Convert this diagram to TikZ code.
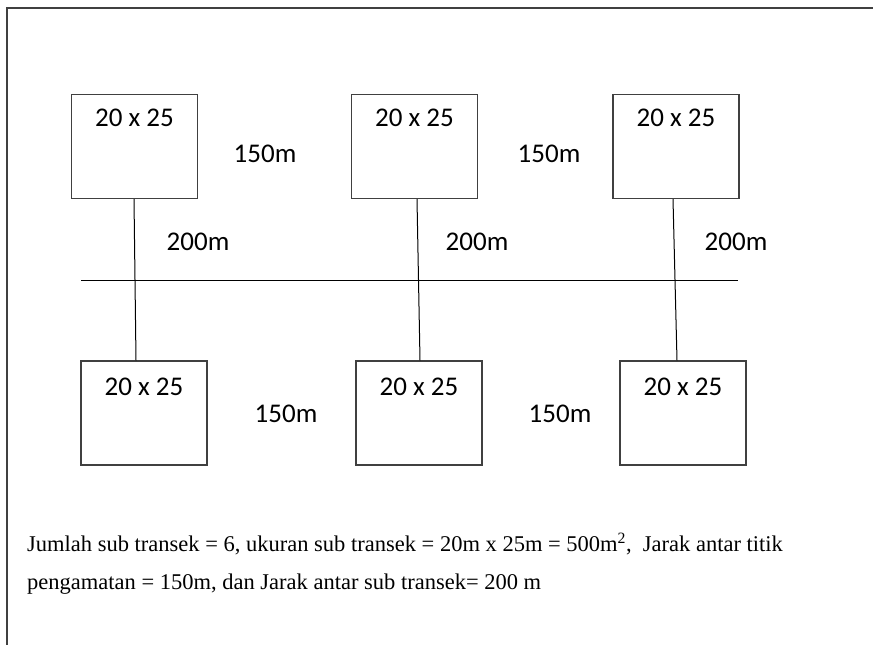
\documentclass[tikz,border=0pt]{standalone}
\usepackage{fontspec}
\setmainfont{Liberation Serif}
\newfontfamily\labelfont{Carlito}
\usetikzlibrary{positioning}

\begin{document}
\begin{tikzpicture}[x=1pt,y=-1pt,
	subplot/.style={draw=black!75,line width=1.3pt,minimum width=126pt,minimum height=104pt,inner sep=0pt},
	dist/.style={font=\labelfont\fontsize{27}{31}\selectfont,inner sep=0pt},
	note/.style={font=\fontsize{22.5}{26}\selectfont,inner sep=0pt,anchor=base west}]

\clip (0,0) rectangle (873,645);
\useasboundingbox (0,0) rectangle (873,645);

% frame
\draw[color=black!75,line width=1.3pt] (7,660)--(7,8)--(873,8);

% sub transek
\node[subplot] (t1) at (134.5,146.5) {};
\node[subplot] (t2) at (414.5,146.5) {};
\node[subplot] (t3) at (676,146.5) {};
\node[subplot] (b1) at (144,413) {};
\node[subplot] (b2) at (419,413) {};
\node[subplot] (b3) at (683,413) {};

\foreach \n in {t1,t2,t3}{
	\node[dist] (\n txt) at ([yshift=-24pt]\n.north) {20 x 25};
}
\foreach \n in {b1,b2,b3}{
	\node[dist] (\n txt) at ([yshift=-26pt]\n.north) {20 x 25};
}

% transek
\coordinate (lineL) at (81,280);
\coordinate (lineR) at (738,280);
\draw[line width=1pt] (lineL)--(lineR);

\draw[line width=1pt] ([xshift=-0.5pt]t1.south)--([xshift=-8pt]b1.north);
\draw[line width=1pt] ([xshift=2.5pt]t2.south)--([xshift=1pt]b2.north);
\draw[line width=1pt] ([xshift=-3pt]t3.south)--([xshift=-6pt]b3.north);

% jarak
\node[dist] (d1) at (265,153.5) {150m};
\node[dist] (d2) at (549,153.5) {150m};
\node[dist] (d3) at (286,414) {150m};
\node[dist] (d4) at (560,414) {150m};
\node[dist] (e1) at (198,242) {200m};
\node[dist] (e2) at (477,242) {200m};
\node[dist] (e3) at (736,242) {200m};

% keterangan
\node[note] (k1) at (27,551) {Jumlah sub transek = 6, ukuran sub transek = 20m x 25m = 500m\textsuperscript{2},\ \ Jarak antar titik};
\node[note] (k2) at (27,589) {pengamatan = 150m, dan Jarak antar sub transek= 200 m};

\end{tikzpicture}
\end{document}
